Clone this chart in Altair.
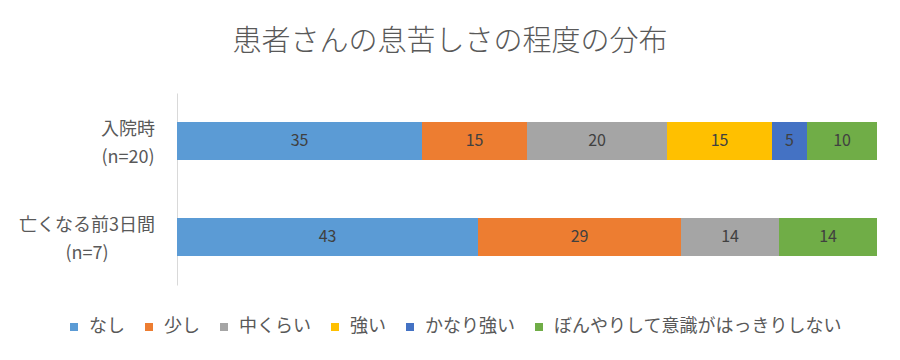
import altair as alt
import pandas as pd

categories = ["入院時\n(n=20)", "亡くなる前3日間\n(n=7)"]
levels = ["なし", "少し", "中くらい", "強い", "かなり強い", "ぼんやりして意識がはっきりしない"]
colors = ["#5B9BD5", "#ED7D31", "#A5A5A5", "#FFC000", "#4472C4", "#70AD47"]
admission = [35, 15, 20, 15, 5, 10]
last3days = [43, 29, 14, 0, 0, 14]

rows = []
for cat, vals in zip(categories, [admission, last3days]):
    for i, (lv, v) in enumerate(zip(levels, vals)):
        rows.append({"cat": cat, "level": lv, "value": v, "order": i})
df = pd.DataFrame(rows)
cat_df = pd.DataFrame({"cat": categories})

FONT = "Noto Sans CJK JP"

base = alt.Chart(df).transform_stack(
    stack="value", as_=["x0", "x1"], groupby=["cat"], sort=[alt.SortField("order")]
).transform_calculate(mid="(datum.x0 + datum.x1) / 2")

y_scale = alt.Scale(domain=categories, paddingInner=0, paddingOuter=0)

y_enc = alt.Y(
    "cat:N",
    sort=categories,
    scale=y_scale,
    axis=alt.Axis(
        title=None,
        ticks=False,
        grid=False,
        labels=False,
        domain=True,
        domainColor="#D9D9D9",
        domainWidth=1,
    ),
)

bars = base.mark_bar(size=38).encode(
    x=alt.X("x0:Q", scale=alt.Scale(domain=[0, 100]), axis=None),
    x2="x1:Q",
    y=y_enc,
    color=alt.Color(
        "level:N",
        scale=alt.Scale(domain=levels, range=colors),
        legend=alt.Legend(
            title=None,
            orient="none",
            legendX=-112,
            legendY=225,
            direction="horizontal",
            symbolType="square",
            symbolSize=64,
            symbolStrokeWidth=0,
            labelFontSize=18,
            labelColor="#595959",
            labelFont=FONT,
            columnPadding=15,
            labelOffset=6,
            labelLimit=400,
        ),
    ),
)

texts = base.transform_filter("datum.value > 0").mark_text(
    fontSize=16, color="#404040", font=FONT, baseline="middle"
).encode(
    x=alt.X("mid:Q", scale=alt.Scale(domain=[0, 100]), axis=None),
    y=alt.Y("cat:N", sort=categories, scale=y_scale),
    text=alt.Text("value:Q"),
)

label_style = dict(
    fontSize=18, color="#595959", font=FONT, align="center",
    baseline="middle", lineBreak="\n", lineHeight=28, dy=-11,
)
lab1 = alt.Chart(cat_df).transform_filter(
    alt.FieldEqualPredicate(field="cat", equal=categories[0])
).mark_text(**label_style).encode(
    x=alt.value(-49),
    y=alt.Y("cat:N", sort=categories, scale=y_scale),
    text="cat:N",
)
lab2 = alt.Chart(cat_df).transform_filter(
    alt.FieldEqualPredicate(field="cat", equal=categories[1])
).mark_text(**label_style).encode(
    x=alt.value(-90),
    y=alt.Y("cat:N", sort=categories, scale=y_scale),
    text="cat:N",
)

chart = alt.layer(bars, texts, lab1, lab2).properties(
    width=700,
    height=192,
    padding={"left": 169, "top": 85, "right": 15, "bottom": 60},
    autosize=alt.AutoSizeParams(type="none"),
    title=alt.TitleParams(
        "患者さんの息苦しさの程度の分布",
        fontSize=29,
        font=FONT,
        fontWeight=300,
        color="#595959",
        anchor="middle",
        offset=36,
        dx=-77,
    ),
).configure_view(stroke=None)

chart.save("out.html", embed_options={"renderer": "svg", "actions": False})
